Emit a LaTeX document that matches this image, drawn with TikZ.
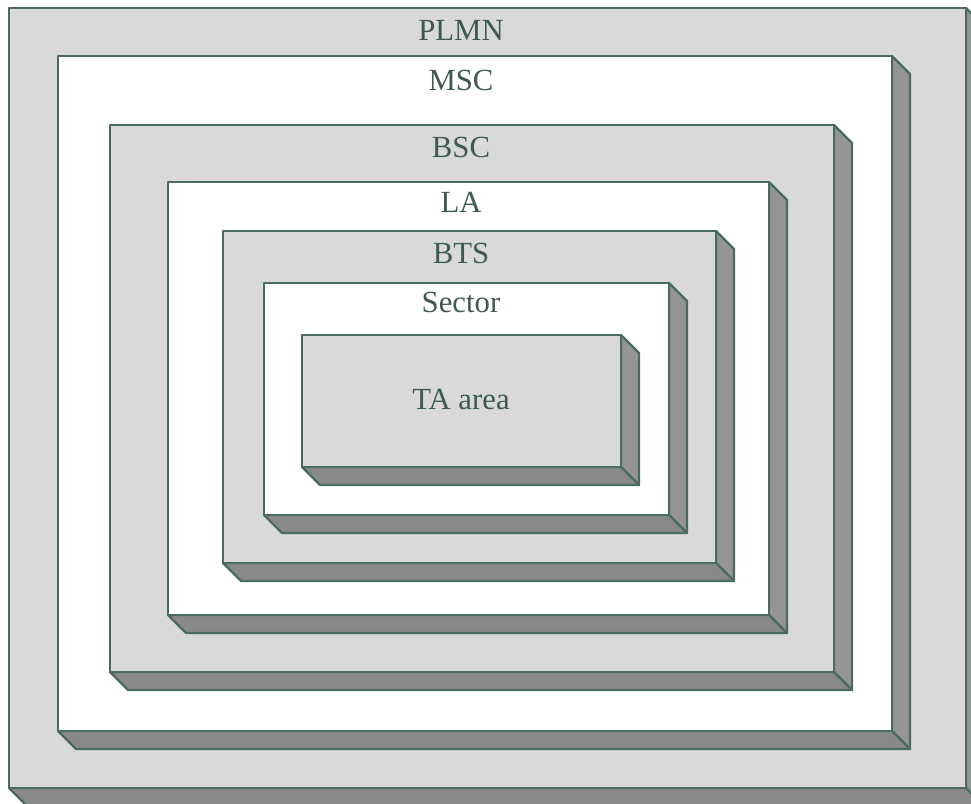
\documentclass[tikz,border=0pt]{standalone}
\usepackage{fontspec}
\setmainfont{Liberation Serif}
\usepackage{tikz}
\definecolor{boxedge}{HTML}{4A6B60}
\definecolor{boxface}{HTML}{D9D9D9}
\definecolor{boxright}{HTML}{959595}
\definecolor{boxbottom}{HTML}{898989}
\definecolor{boxtext}{HTML}{3E5A50}
\tikzstyle{lbl}=[text=boxtext, font=\fontsize{17.5}{20}\selectfont, inner sep=0pt]

\begin{document}
\begin{tikzpicture}[x=0.02cm, y=-0.02cm, line width=1.3pt, line join=round]

    \clip (0,0) rectangle (971,804);

    %boxes, outside in
    \foreach \xa/\ya/\xb/\yb/\col in {9/8/966/788/boxface, 58/56/892/731/white, 110/125/834/672/boxface, 168/182/769/615/white, 223/231/716/563/boxface, 264/283/669/515/white, 302/335/621/467/boxface}{
        \filldraw [fill=boxright, draw=boxedge] (\xb,\ya) -- ++(18,18) -- (\xb+18,\yb+18) -- (\xb,\yb) -- cycle;
        \filldraw [fill=boxbottom, draw=boxedge] (\xa,\yb) -- (\xb,\yb) -- (\xb+18,\yb+18) -- (\xa+18,\yb+18) -- cycle;
        \filldraw [fill=\col, draw=boxedge] (\xa,\ya) rectangle (\xb,\yb);
    }

    %labels
    \node [lbl] (plmn) at (461,30) {PLMN};
    \node [lbl] (msc) at (461,80) {MSC};
    \node [lbl] (bsc) at (461,147) {BSC};
    \node [lbl] (la) at (461,202) {LA};
    \node [lbl] (bts) at (461,253) {BTS};
    \node [lbl] (sector) at (461,302) {Sector};
    \node [lbl] (ta) at (461,400) {TA area};

\end{tikzpicture}
\end{document}
